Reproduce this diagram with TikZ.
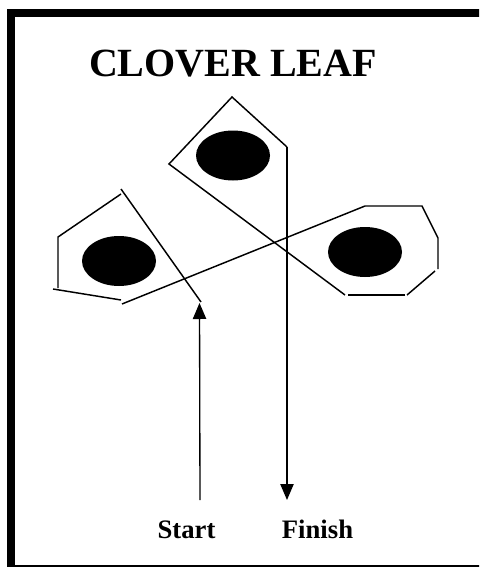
\documentclass[tikz,border=0pt]{standalone}
\usepackage{fontspec}
\setmainfont{Liberation Serif}
\usetikzlibrary{arrows.meta}

\begin{document}
\begin{tikzpicture}[x=.75pt, y=-.75pt, line width=1.1pt, font=\bfseries,
 	way/.style={-{Triangle[length=12pt,width=10pt]}, line width=1pt}]
 		%canvas
 		\useasboundingbox (0,0) rectangle (479,567);
 		\clip (0,0) rectangle (479,567);
 		\draw[line width=6pt] (11,13) rectangle (490,569);
 		%title
 		\node[font=\bfseries\fontsize{30}{34}\selectfont, anchor=base] (title) at (233,77) {CLOVER LEAF};
 		%leaves
 		\foreach \cx/\cy in {233/155.5, 119/261, 365/252}
 		\fill (\cx,\cy) ellipse [x radius=37, y radius=25];
 		%route
 		\coordinate (start) at (200,500);
 		\coordinate (start tip) at (199.5,303);
 		\coordinate (finish top) at (287,147);
 		\coordinate (finish) at (287,500);
 		\draw plot coordinates{(201,302) (121,189)};
 		\draw plot coordinates{(121,194) (58,237) (58,288)};
 		\draw plot coordinates{(53,289) (121,300)};
 		\draw plot coordinates{(122,304) (365,206) (422,206) (438,238) (438,269)};
 		\draw plot coordinates{(435,271) (407,295)};
 		\draw plot coordinates{(405,295) (348,295)};
 		\draw plot coordinates{(345,295) (169,164) (232,97) (finish top)};
 		%arrows
 		\draw[way] (start) -- (start tip);
 		\draw[way] (finish top) -- (finish);
 		%labels
 		\node[font=\bfseries\fontsize{20}{24}\selectfont, anchor=base] (start label) at (186.5,538) {Start};
 		\node[font=\bfseries\fontsize{20}{24}\selectfont, anchor=base] (finish label) at (317.5,538) {Finish};
\end{tikzpicture}
\end{document}
